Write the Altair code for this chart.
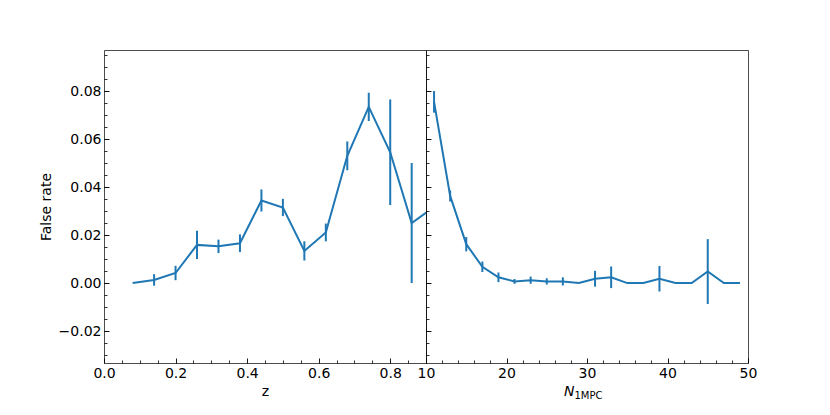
import altair as alt
import pandas as pd

# ---- data ----
z_vals = [0.08, 0.14, 0.20, 0.26, 0.32, 0.38, 0.44, 0.50, 0.56, 0.62, 0.68, 0.74, 0.80, 0.86, 0.92]
z_rate = [0.0, 0.0013, 0.0042, 0.0159, 0.0153, 0.0166, 0.0344, 0.0315, 0.0134, 0.0211, 0.0530, 0.0734, 0.0545, 0.0250, 0.0315]
z_err = [0.0, 0.0024, 0.0030, 0.0059, 0.0028, 0.0037, 0.0046, 0.0036, 0.0040, 0.0037, 0.0060, 0.0059, 0.0220, 0.0250, 0.0]

n_vals = [11, 13, 15, 17, 19, 21, 23, 25, 27, 29, 31, 33, 35, 37, 39, 41, 43, 45, 47, 49]
n_rate = [0.0755, 0.0363, 0.0162, 0.0068, 0.0024, 0.0007, 0.0012, 0.0007, 0.0007, 0.0,
          0.0018, 0.0024, 0.0, 0.0, 0.0018, 0.0, 0.0, 0.0048, 0.0, 0.0]
n_err = [0.0045, 0.0023, 0.0030, 0.0022, 0.0020, 0.0010, 0.0015, 0.0013, 0.0017, 0.0,
         0.0033, 0.0045, 0.0, 0.0, 0.0053, 0.0, 0.0, 0.0135, 0.0, 0.0]

y_domain = [-0.0333, 0.0971]
y_major = [-0.02, 0.0, 0.02, 0.04, 0.06, 0.08]
y_minor = [-0.03, -0.025, -0.02, -0.015, -0.01, -0.005, 0.0, 0.005, 0.01, 0.015, 0.02, 0.025,
           0.03, 0.035, 0.04, 0.045, 0.05, 0.055, 0.06, 0.065, 0.07, 0.075, 0.08, 0.085, 0.09, 0.095]

z_domain = [0.0, 0.9]
z_major = [0.0, 0.2, 0.4, 0.6, 0.8]
z_minor = [0.05, 0.1, 0.15, 0.25, 0.3, 0.35, 0.45, 0.5, 0.55, 0.65, 0.7, 0.75, 0.85]

n_domain = [10, 50]
n_major = [10, 20, 30, 40, 50]
n_minor = [12, 14, 16, 18, 22, 24, 26, 28, 32, 34, 36, 38, 42, 44, 46, 48]

BLUE = "#1f77b4"
FONT = "DejaVu Sans"
MAJ = 5
MIN = 3
W, H = 322, 313


def make_df(xs, ys, es):
    return pd.DataFrame({
        "x": xs,
        "rate": ys,
        "err": es,
        "lo": [a - b for a, b in zip(ys, es)],
        "hi": [a + b for a, b in zip(ys, es)],
    })


def panel(df, xdomain, xmajor, xminor, xfmt, xtitle, ylabels):
    xs = alt.Scale(domain=xdomain, nice=False, zero=False)
    ys = alt.Scale(domain=y_domain, nice=False, zero=False)

    xmaj_kw = dict(values=xmajor, orient="bottom", format=xfmt, tickSize=MAJ, offset=-MAJ,
                   domain=False, labelPadding=3, tickColor="black", tickWidth=0.9,
                   labelFontSize=14, labelColor="black", labelFont=FONT, labelFlush=False,
                   labelOverlap=False)
    if xtitle:
        xmaj_kw.update(title=xtitle, titleFontSize=14, titleFont=FONT, titleFontWeight="normal",
                       titlePadding=4, titleColor="black")
    else:
        xmaj_kw.update(title="")

    ymaj_kw = dict(values=y_major, orient="left", format=".2f", tickSize=MAJ, offset=-MAJ,
                   domain=False, labelPadding=3, tickColor="black", tickWidth=0.9,
                   labelFontSize=14, labelColor="black", labelFont=FONT, labels=ylabels,
                   labelFlush=False)
    if ylabels:
        ymaj_kw.update(title="False rate", titleFontSize=14, titleFont=FONT,
                       titleFontWeight="normal", titlePadding=5, titleColor="black")
    else:
        ymaj_kw.update(title="")

    xmin_ax = alt.Axis(values=xminor, orient="bottom", tickSize=MIN, offset=-MIN, domain=False,
                       labels=False, title="", tickColor="black", tickWidth=0.8)
    ymin_ax = alt.Axis(values=y_minor, orient="left", tickSize=MIN, offset=-MIN, domain=False,
                       labels=False, title="", tickColor="black", tickWidth=0.8)

    base = alt.Chart(df)
    line = base.mark_line(color=BLUE, strokeWidth=2, clip=True).encode(
        x=alt.X("x:Q", scale=xs, axis=alt.Axis(**xmaj_kw)),
        y=alt.Y("rate:Q", scale=ys, axis=alt.Axis(**ymaj_kw)),
    )
    bars = base.mark_rule(color=BLUE, strokeWidth=2, clip=True).encode(
        x=alt.X("x:Q", scale=xs, axis=xmin_ax),
        y=alt.Y("lo:Q", scale=ys, axis=ymin_ax),
        y2="hi:Q",
    ).transform_filter("datum.err > 0")
    return alt.layer(line, bars).resolve_axis(x="independent", y="independent").properties(
        width=W, height=H)


left = panel(make_df(z_vals, z_rate, z_err), z_domain, z_major, z_minor, ".1f", "z", True)

right_core = panel(make_df(n_vals, n_rate, n_err), n_domain, n_major, n_minor, "d", None, False)

title_df = pd.DataFrame({"a": [0]})
n_main = alt.Chart(title_df).mark_text(
    text="N", font=FONT, fontSize=14, fontStyle="italic", align="right", baseline="alphabetic",
    color="black").encode(x=alt.value(148.5), y=alt.value(346))
n_sub = alt.Chart(title_df).mark_text(
    text="1MPC", font=FONT, fontSize=10, align="left", baseline="alphabetic",
    color="black").encode(x=alt.value(148.5), y=alt.value(348.5))

right = alt.layer(right_core, n_main, n_sub).properties(width=W, height=H)

chart = alt.hconcat(left, right, spacing=0, bounds="flush").properties(
    padding={"left": 30, "top": 41, "right": 5, "bottom": 5}
).configure_axis(grid=False).configure_view(
    stroke="black", strokeOpacity=0.7, strokeWidth=1
)

chart.save("out.html", embed_options={"renderer": "svg", "actions": False})
